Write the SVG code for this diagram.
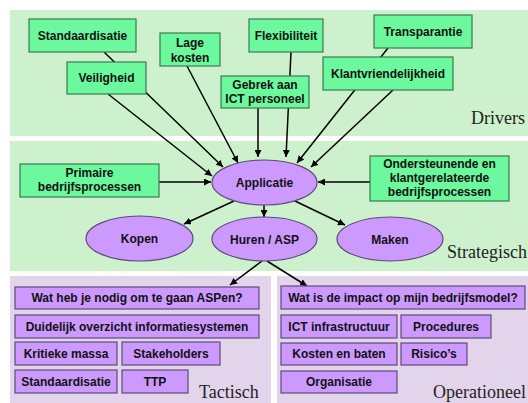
<svg xmlns="http://www.w3.org/2000/svg" width="528" height="403" viewBox="0 0 528 403">
<style>
.pg{fill:#cdf1cd}
.pp{fill:#e2d4ea}
.bg{fill:#6cf89c;stroke:#3d7a52;stroke-width:1.2}
.bp{fill:#cc99ff;stroke:#5f4a78;stroke-width:1.2}
.el{fill:#cc99ff;stroke:#5f4a78;stroke-width:1.2}
.t{font-family:"Liberation Sans",Arial,sans-serif;font-weight:bold;font-size:12px;fill:#111;text-anchor:middle}
.lbl{font-family:"Liberation Serif","Times New Roman",serif;font-size:18px;fill:#222}
.c{stroke:#000;stroke-width:1.5;fill:none}
.ca{stroke:#000;stroke-width:1.5;fill:none;marker-end:url(#ah)}
</style>
<defs>
<marker id="ah" viewBox="0 0 10 10" refX="10" refY="5" markerWidth="7" markerHeight="7" markerUnits="userSpaceOnUse" orient="auto">
<path d="M0,0 L10,5 L0,10 z" fill="#000"/>
</marker>
</defs>
<rect width="528" height="403" fill="#fff"/>
<g id="panels">
<rect class="pg" x="10" y="10" width="518" height="126"/>
<rect class="pg" x="10" y="141" width="518" height="130"/>
<rect class="pp" x="10" y="276" width="261" height="127"/>
<rect class="pp" x="277" y="276" width="251" height="127"/>
<text class="lbl" x="471" y="124">Drivers</text>
<text class="lbl" x="447" y="258">Strategisch</text>
<text class="lbl" x="199" y="398">Tactisch</text>
<text class="lbl" x="433" y="398">Operationeel</text>
</g>
<g id="connectors">
<line class="ca" x1="104" y1="52" x2="223" y2="167"/>
<line class="ca" x1="108" y1="94" x2="212" y2="176"/>
<line class="ca" x1="187" y1="66" x2="238" y2="163"/>
<line class="ca" x1="258" y1="108" x2="258" y2="157"/>
<line class="ca" x1="291" y1="52" x2="286" y2="157"/>
<line class="ca" x1="388" y1="48" x2="297" y2="163"/>
<line class="ca" x1="393" y1="90" x2="311" y2="167"/>
<line class="ca" x1="159" y1="182" x2="211" y2="182"/>
<line class="ca" x1="370" y1="182" x2="318" y2="182"/>
<line class="ca" x1="234" y1="201" x2="184" y2="224"/>
<line class="ca" x1="264" y1="205" x2="264" y2="217"/>
<line class="ca" x1="295" y1="201" x2="345" y2="225"/>
<line class="ca" x1="262" y1="261" x2="230" y2="285"/>
<line class="ca" x1="267" y1="261" x2="307" y2="286"/>
</g>
<g id="standaardisatie1"><rect class="bg" x="29" y="19" width="107" height="33"/><text class="t" x="82.5" y="40">Standaardisatie</text></g>
<g id="veiligheid"><rect class="bg" x="67" y="62" width="79" height="32"/><text class="t" x="106.5" y="82">Veiligheid</text></g>
<g id="lagekosten"><rect class="bg" x="160" y="33" width="60" height="33"/><text class="t" x="190" y="47">Lage</text><text class="t" x="190" y="61.5">kosten</text></g>
<g id="flexibiliteit"><rect class="bg" x="249" y="19" width="74" height="33"/><text class="t" x="286" y="40">Flexibiliteit</text></g>
<g id="gebrek"><rect class="bg" x="221" y="76" width="88" height="32"/><text class="t" x="265" y="89">Gebrek aan</text><text class="t" x="265" y="103">ICT personeel</text></g>
<g id="transparantie"><rect class="bg" x="374" y="15" width="98" height="33"/><text class="t" x="423" y="36">Transparantie</text></g>
<g id="klantvriendelijkheid"><rect class="bg" x="323" y="57" width="130" height="33"/><text class="t" x="388" y="78">Klantvriendelijkheid</text></g>
<g id="primaire"><rect class="bg" x="20" y="164" width="139" height="33"/><text class="t" x="89.5" y="177">Primaire</text><text class="t" x="89.5" y="191">bedrijfsprocessen</text></g>
<g id="ondersteunende"><rect class="bg" x="370" y="156" width="139" height="45"/><text class="t" x="439.5" y="168">Ondersteunende en</text><text class="t" x="439.5" y="182">klantgerelateerde</text><text class="t" x="439.5" y="196">bedrijfsprocessen</text></g>
<g id="applicatie"><ellipse class="el" cx="264.5" cy="182.5" rx="52.5" ry="22.5"/><text class="t" x="264.5" y="187">Applicatie</text></g>
<g id="kopen"><ellipse class="el" cx="139.5" cy="238.5" rx="53.5" ry="22.5"/><text class="t" x="139.5" y="243">Kopen</text></g>
<g id="huren"><ellipse class="el" cx="264.5" cy="239" rx="52.5" ry="22"/><text class="t" x="264.5" y="243.5">Huren / ASP</text></g>
<g id="maken"><ellipse class="el" cx="390" cy="239" rx="53" ry="22"/><text class="t" x="390" y="243.5">Maken</text></g>
<g id="aspen"><rect class="bp" x="15" y="287" width="244" height="22"/><text class="t" x="137" y="302">Wat heb je nodig om te gaan ASPen?</text></g>
<g id="overzicht"><rect class="bp" x="15" y="315" width="244" height="23"/><text class="t" x="137" y="330.5">Duidelijk overzicht informatiesystemen</text></g>
<g id="kritieke"><rect class="bp" x="15" y="342" width="102" height="23"/><text class="t" x="66" y="357.5">Kritieke massa</text></g>
<g id="stakeholders"><rect class="bp" x="122" y="342" width="98" height="23"/><text class="t" x="171" y="357.5">Stakeholders</text></g>
<g id="standaardisatie2"><rect class="bp" x="15" y="370" width="102" height="23"/><text class="t" x="66" y="385.5">Standaardisatie</text></g>
<g id="ttp"><rect class="bp" x="122" y="370" width="66" height="23"/><text class="t" x="155" y="385.5">TTP</text></g>
<g id="impact"><rect class="bp" x="281" y="286" width="244" height="23"/><text class="t" x="403" y="301.5">Wat is de impact op mijn bedrijfsmodel?</text></g>
<g id="ict"><rect class="bp" x="281" y="315" width="116" height="23"/><text class="t" x="339" y="330.5">ICT infrastructuur</text></g>
<g id="procedures"><rect class="bp" x="401" y="315" width="90" height="23"/><text class="t" x="446" y="330.5">Procedures</text></g>
<g id="kosten"><rect class="bp" x="281" y="343" width="116" height="22"/><text class="t" x="339" y="358">Kosten en baten</text></g>
<g id="risicos"><rect class="bp" x="401" y="343" width="66" height="22"/><text class="t" x="434" y="358">Risico’s</text></g>
<g id="organisatie"><rect class="bp" x="281" y="371" width="116" height="22"/><text class="t" x="339" y="386">Organisatie</text></g>
</svg>
